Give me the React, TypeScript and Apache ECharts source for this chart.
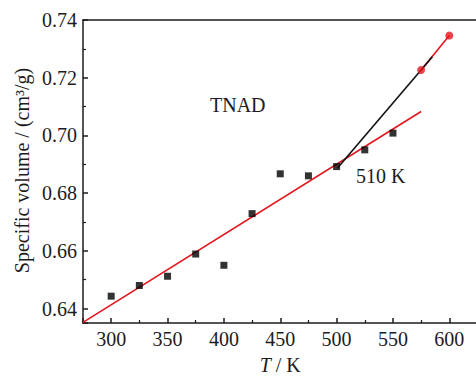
import React, { useEffect, useRef } from "react";
import * as echarts from "echarts";

const tempK = [300, 325, 350, 375, 400, 425, 450, 475, 500, 525, 550];
const volume = [0.6443, 0.648, 0.6512, 0.6589, 0.655, 0.6729, 0.6867, 0.686, 0.6892, 0.695, 0.7008];
const highT = [575, 600];
const highV = [0.7227, 0.7346];
const fitT = [275, 575];
const fitV = [0.6352, 0.7083];
const extT = [501, 585];
const extV = [0.6888, 0.7273];
const xTicks = [300, 350, 400, 450, 500, 550, 600];
const yTicks = [0.64, 0.66, 0.68, 0.7, 0.72, 0.74];

const RED = "#e3161e";
const INK = "#1c1c1c";
const FONT = "Liberation Serif";

const zip = (a: number[], b: number[]) => a.map((v, i) => [v, b[i]]);

export default function App() {
  const ref = useRef<HTMLDivElement>(null);
  useEffect(() => {
    if (!ref.current) return;
    const chart = echarts.init(ref.current, undefined, { renderer: "svg" });
    const axisLine = { show: true, lineStyle: { color: INK, width: 1.5 } };
    chart.setOption({
      animation: false,
      backgroundColor: "#ffffff",
      textStyle: { fontFamily: FONT },
      grid: {
        left: 83,
        top: 20,
        right: -1.5,
        bottom: 53,
        containLabel: false,
        outerBoundsMode: "none",
      },
      xAxis: [
        {
          type: "value",
          min: 275,
          max: 625,
          minInterval: 50,
          maxInterval: 50,
          axisLine,
          axisTick: { show: true, inside: true, length: 5, lineStyle: { color: INK, width: 1.5 } },
          minorTick: { show: true, splitNumber: 2, length: 3, lineStyle: { color: INK, width: 1.2 } },
          splitLine: { show: false },
          axisLabel: {
            show: true,
            margin: 6,
            fontSize: 20,
            fontFamily: FONT,
            color: INK,
            showMinLabel: false,
            showMaxLabel: false,
            formatter: (v: number) => (xTicks.includes(v) ? String(v) : ""),
          },
          name: "{i|T} / K",
          nameLocation: "middle",
          nameGap: 32,
          nameTextStyle: {
            fontSize: 20,
            fontFamily: FONT,
            color: INK,
            rich: { i: { fontStyle: "italic", fontSize: 20, fontFamily: FONT, color: INK } },
          },
        },
        {
          type: "value",
          position: "top",
          min: 275,
          max: 625,
          minInterval: 50,
          maxInterval: 50,
          axisLine,
          axisTick: { show: false },
          axisLabel: { show: false },
          splitLine: { show: false },
        },
      ],
      yAxis: {
        type: "value",
        min: 0.635,
        max: 0.74,
        minInterval: 0.02,
        maxInterval: 0.02,
        axisLine,
        axisTick: { show: true, inside: true, length: 5, lineStyle: { color: INK, width: 1.5 } },
        minorTick: { show: true, splitNumber: 2, length: 3, lineStyle: { color: INK, width: 1.2 } },
        splitLine: { show: false },
        axisLabel: {
          margin: 6,
          fontSize: 20,
          fontFamily: FONT,
          color: INK,
          showMinLabel: false,
          formatter: (v: number) => {
            const hit = yTicks.find((t) => Math.abs(t - v) < 1e-6);
            return hit !== undefined ? hit.toFixed(2) : "";
          },
        },
      },
      series: [
        {
          type: "line",
          data: zip(fitT, fitV),
          showSymbol: false,
          symbol: "none",
          lineStyle: { color: RED, width: 1.6 },
          z: 2,
        },
        {
          type: "line",
          data: zip(highT, highV),
          showSymbol: false,
          symbol: "none",
          lineStyle: { color: RED, width: 1.6 },
          z: 2,
        },
        {
          type: "line",
          data: zip(extT, extV),
          showSymbol: false,
          symbol: "none",
          lineStyle: { color: "#111111", width: 1.6 },
          z: 3,
        },
        {
          type: "scatter",
          data: zip(tempK, volume),
          symbol: "rect",
          symbolSize: 7,
          itemStyle: { color: "#000000" },
          z: 4,
        },
        {
          type: "scatter",
          data: zip(highT, highV),
          symbol: "circle",
          symbolSize: 8,
          itemStyle: { color: RED },
          z: 4,
        },
      ],
      graphic: [
        {
          type: "text",
          x: 22,
          y: 170.5,
          rotation: Math.PI / 2,
          style: {
            text: "Specific volume / (cm³/g)",
            fontSize: 20,
            fontFamily: FONT,
            fill: INK,
            align: "center",
            verticalAlign: "middle",
          },
        },
        {
          type: "text",
          left: 210,
          top: 95,
          style: { text: "TNAD", fontSize: 20, fontFamily: FONT, fill: INK },
        },
        {
          type: "text",
          left: 356,
          top: 166,
          style: { text: "510 K", fontSize: 20, fontFamily: FONT, fill: INK },
        },
      ],
    });
    return () => chart.dispose();
  }, []);
  return (
    <div
      ref={ref}
      style={{ position: "absolute", left: 0, top: 0, width: 476, height: 376, background: "#fff" }}
    />
  );
}
